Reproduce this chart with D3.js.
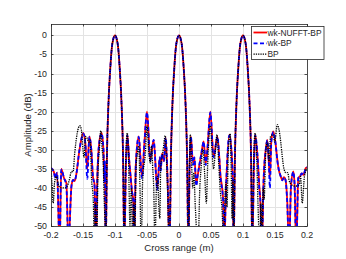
<!DOCTYPE html>
<html lang="en">
<head>
<meta charset="utf-8">
<title>cross range</title>
<script src="https://cdn.jsdelivr.net/npm/d3@7/dist/d3.min.js"></script>
<style>
    body { margin: 0; background: #fff; }
    svg { display: block; font-family: "Liberation Sans", Arial, sans-serif; }
    .grid line { stroke: #e3e3e3; stroke-width: 1; }
    .tick-label { fill: #262626; font-size: 8.8px; }
    .legend-label { fill: #262626; font-size: 8.4px; }
    .axis-label { fill: #262626; font-size: 9.6px; }
</style>
</head>
<body>
<script>
// tick values / labels
var xTicks = [-0.2, -0.15, -0.1, -0.05, 0, 0.05, 0.1, 0.15, 0.2];
var xTickLabels = ['-0.2', '-0.15', '-0.1', '-0.05', '0', '0.05', '0.1', '0.15', '0.2'];
var yTicks = [-50, -45, -40, -35, -30, -25, -20, -15, -10, -5, 0];
var seriesNames = ['wk-NUFFT-BP', 'wk-BP', 'BP'];

// wk curves (cross range in m)
var wkX = [-0.2, -0.1955, -0.1935, -0.1905, -0.1865, -0.184, -0.1797, -0.176, -0.1728, -0.168,
    -0.1656, -0.163, -0.1605, -0.1555, -0.1495, -0.1464, -0.1433, -0.14, -0.137, -0.1345,
    -0.132, -0.1298, -0.1277, -0.1245, -0.121, -0.118, -0.1168, -0.1158, -0.1145, -0.1125,
    -0.11, -0.1075, -0.105, -0.1025, -0.1, -0.0975, -0.095, -0.0925, -0.09, -0.0875,
    -0.0855, -0.083, -0.0808, -0.0777, -0.0755, -0.0734, -0.0715, -0.0702, -0.0675, -0.063,
    -0.0578, -0.054, -0.05, -0.0448, -0.0396, -0.034, -0.03, -0.0285, -0.0266, -0.0235,
    -0.0208, -0.0178, -0.0147, -0.0125, -0.01, -0.0075, -0.005, -0.0025, 0, 0.0025,
    0.005, 0.0075, 0.01, 0.0125, 0.0147, 0.0165, 0.0185, 0.022, 0.024, 0.027,
    0.029, 0.0349, 0.0386, 0.0417, 0.0443, 0.049, 0.054, 0.06, 0.065, 0.069,
    0.0705, 0.0735, 0.0786, 0.083, 0.0843, 0.0853, 0.0875, 0.09, 0.0925, 0.095,
    0.0975, 0.1, 0.1025, 0.105, 0.1075, 0.11, 0.1125, 0.1145, 0.117, 0.119,
    0.1234, 0.1255, 0.127, 0.1295, 0.1322, 0.1355, 0.138, 0.1406, 0.142, 0.1443,
    0.1474, 0.151, 0.1536, 0.156, 0.159, 0.1615, 0.164, 0.1665, 0.169, 0.172,
    0.175, 0.1786, 0.1805, 0.1832, 0.1864, 0.189, 0.1917, 0.1945, 0.198, 0.2];

var nufftDb = [-34.8, -35.8, -37.2, -36, -56, -35, -37.4, -38.7, -55, -39.5,
    -37.9, -38.2, -36.5, -30, -25.6, -28.1, -35, -26.5, -30, -37,
    -39, -56, -37.6, -28, -25.6, -30, -38, -33, -56, -31,
    -17, -9, -3.3, -0.8, 0, -0.8, -3.3, -9, -17, -31,
    -56, -35, -26, -33, -37, -41, -43, -56, -34, -26.5,
    -37, -28, -20, -32.6, -27.4, -40, -32, -35, -31, -33,
    -26.8, -38, -56, -31, -17, -9, -3.3, -0.8, 0, -0.8,
    -3.3, -9, -17, -31, -56, -35, -26.5, -33.5, -32, -39,
    -37, -31, -27.8, -33.5, -30, -20, -31.8, -26.5, -37, -43,
    -56, -40, -26, -33, -40, -56, -31, -17, -9, -3.3,
    -0.8, 0, -0.8, -3.3, -9, -17, -31, -56, -35, -26,
    -33.5, -39.6, -43, -56, -38, -30, -27.4, -34, -37.4, -27.6,
    -25.2, -28.5, -32.6, -35.3, -37, -38, -37.2, -37.9, -43, -56,
    -39.5, -35.7, -38.7, -56, -37.4, -37, -36.2, -36.6, -34.8, -34.6];

var wkbpDb = [-34.8, -35.8, -37.4, -36, -56, -35.2, -37.4, -39.5, -55, -39.5,
    -37.9, -38.2, -36.5, -30, -25.8, -28.3, -37.6, -26.6, -30, -37,
    -39.5, -56, -37.6, -28, -25.7, -30, -38.5, -33, -56, -31,
    -17, -9, -3.3, -0.8, 0, -0.8, -3.3, -9, -17, -31,
    -56, -35, -26.2, -33, -37.5, -41, -43.5, -56, -34, -26.6,
    -37.5, -28, -20.2, -32.8, -27.4, -40.5, -32, -35.5, -31, -33,
    -26.9, -38, -56, -31, -17, -9, -3.3, -0.8, 0, -0.8,
    -3.3, -9, -17, -31, -56, -35, -26.6, -34, -32, -39.5,
    -37, -31, -27.9, -34, -30, -20.2, -32, -26.6, -37.5, -43.5,
    -56, -40, -26.2, -33, -40.5, -56, -31, -17, -9, -3.3,
    -0.8, 0, -0.8, -3.3, -9, -17, -31, -56, -35, -26.2,
    -33.5, -40.5, -43, -56, -38, -30, -27.5, -34.5, -40, -27.8,
    -25.4, -28.5, -32.8, -35.3, -37, -38, -37.2, -38, -43.5, -56,
    -39.5, -35.8, -38.7, -56, -37.4, -37, -36.2, -36.6, -34.8, -34.6];

// BP curve
var bpX = [-0.2, -0.1985, -0.1965, -0.1945, -0.1915, -0.188, -0.183, -0.178, -0.1745, -0.1715,
    -0.168, -0.1655, -0.163, -0.159, -0.155, -0.1525, -0.15, -0.1485, -0.146, -0.1435,
    -0.141, -0.139, -0.1365, -0.134, -0.132, -0.1305, -0.1288, -0.1265, -0.1245, -0.1222,
    -0.12, -0.1185, -0.117, -0.1158, -0.1145, -0.1125, -0.11, -0.1075, -0.105, -0.1025,
    -0.1, -0.0975, -0.095, -0.0925, -0.09, -0.0875, -0.0855, -0.0843, -0.083, -0.0808,
    -0.0788, -0.0766, -0.0745, -0.0723, -0.0705, -0.069, -0.067, -0.065, -0.063, -0.0612,
    -0.059, -0.0568, -0.0526, -0.05, -0.047, -0.0448, -0.043, -0.041, -0.0395, -0.0375,
    -0.0355, -0.0335, -0.0315, -0.03, -0.0285, -0.0255, -0.0214, -0.0195, -0.0178, -0.0155,
    -0.0125, -0.01, -0.0075, -0.005, -0.0025, 0, 0.0025, 0.005, 0.0075, 0.01,
    0.0125, 0.015, 0.0162, 0.0177, 0.0195, 0.0215, 0.023, 0.0255, 0.0298, 0.0323,
    0.0344, 0.0375, 0.04, 0.0427, 0.045, 0.049, 0.0515, 0.054, 0.0565, 0.0594,
    0.062, 0.0646, 0.067, 0.0703, 0.0715, 0.0734, 0.075, 0.077, 0.08, 0.0815,
    0.083, 0.0843, 0.0853, 0.0875, 0.09, 0.0925, 0.095, 0.0975, 0.1, 0.1025,
    0.105, 0.1075, 0.11, 0.1125, 0.1145, 0.1165, 0.119, 0.1215, 0.1234, 0.1262,
    0.128, 0.1295, 0.1315, 0.133, 0.1355, 0.138, 0.1406, 0.143, 0.1474, 0.1495,
    0.1536, 0.156, 0.159, 0.1615, 0.164, 0.167, 0.17, 0.172, 0.175, 0.18,
    0.185, 0.188, 0.19, 0.1925, 0.196, 0.2];

var bpDb = [-35, -38.7, -44, -38.6, -37, -39.5, -40, -40, -39.5, -38,
    -35.7, -35.8, -31, -25.6, -23.7, -24.8, -30, -32, -26.5, -27,
    -28, -27.5, -38, -43, -56, -44, -56, -36, -30, -25,
    -30, -33, -42.6, -48, -56, -31, -17, -9, -3.3, -0.8,
    0, -0.8, -3.3, -9, -17, -31, -56, -40, -31, -25.6,
    -33, -50, -40, -56, -44, -52, -34.4, -31, -29, -38,
    -56, -38, -31, -23.7, -31, -33.5, -29, -35, -40, -56,
    -41, -37, -45, -48, -34, -31, -26.3, -33, -41, -56,
    -31, -17, -9, -3.3, -0.8, 0, -0.8, -3.3, -9, -17,
    -31, -56, -35, -26, -33, -40, -36, -45, -56, -41,
    -35, -29.8, -36, -44, -33, -23.7, -30, -35, -31, -26,
    -33.5, -41, -45, -56, -45, -38.6, -45, -31, -25.8, -35,
    -48, -38, -56, -31, -17, -9, -3.3, -0.8, 0, -0.8,
    -3.3, -9, -17, -31, -56, -33, -25.6, -33, -44, -56,
    -44, -56, -40, -43, -31, -28, -33, -26.5, -26, -28,
    -23.4, -24.5, -28, -32, -35, -36, -36, -38, -39, -39.5,
    -39.5, -39, -37, -44, -37, -35];

var W = 346, H = 259;
var margin = { left: 51, right: 39, top: 24, bottom: 33 };
var plotW = W - margin.left - margin.right,
    plotH = H - margin.top - margin.bottom;

var svg = d3.select('body').append('svg')
    .attr('width', W)
    .attr('height', H);

var x = d3.scaleLinear().domain([-0.2, 0.2]).range([0, plotW]);
var y = d3.scaleLinear().domain([-50, 3]).range([plotH, 0]);

var g = svg.append('g').attr('transform', 'translate(' + margin.left + ',' + margin.top + ')');

svg.append('defs').append('clipPath').attr('id', 'plotclip')
    .append('rect').attr('x', 0).attr('y', 0).attr('width', plotW).attr('height', plotH);

// grid
var grid = g.append('g').attr('class', 'grid');
grid.selectAll('.gx').data(xTicks).enter().append('line')
    .attr('x1', d => Math.round(x(d)) + 0.5).attr('x2', d => Math.round(x(d)) + 0.5)
    .attr('y1', 0).attr('y2', plotH);
grid.selectAll('.gy').data(yTicks).enter().append('line')
    .attr('y1', d => Math.round(y(d)) + 0.5).attr('y2', d => Math.round(y(d)) + 0.5)
    .attr('x1', 0).attr('x2', plotW);

// curves
var line = d3.line()
    .x(d => x(d[0]))
    .y(d => y(d[1]))
    .curve(d3.curveMonotoneX);

var curves = [
    { name: seriesNames[0], pts: wkX.map((v, i) => [v, nufftDb[i]]), color: '#ff0000', width: 1.8, dash: null },
    { name: seriesNames[1], pts: wkX.map((v, i) => [v, wkbpDb[i]]), color: '#0000ff', width: 1.8, dash: '4,2.5' },
    { name: seriesNames[2], pts: bpX.map((v, i) => [v, bpDb[i]]), color: '#000000', width: 1.3, dash: '1.3,1' }
];

var plot = g.append('g').attr('clip-path', 'url(#plotclip)');
plot.selectAll('path').data(curves).enter().append('path')
    .attr('d', d => line(d.pts))
    .attr('fill', 'none')
    .attr('stroke', d => d.color)
    .attr('stroke-width', d => d.width)
    .attr('stroke-dasharray', d => d.dash);

// box + ticks
var axisColor = '#262626';
g.append('rect')
    .attr('x', 0.5).attr('y', 0.5).attr('width', plotW).attr('height', plotH)
    .attr('fill', 'none').attr('stroke', axisColor).attr('stroke-width', 0.8);

var tickLen = 2.5;
var ticks = g.append('g').attr('stroke', axisColor).attr('stroke-width', 0.8);
xTicks.forEach(function (t) {
    var px = Math.round(x(t)) + 0.5;
    ticks.append('line').attr('x1', px).attr('x2', px).attr('y1', plotH).attr('y2', plotH - tickLen);
    ticks.append('line').attr('x1', px).attr('x2', px).attr('y1', 0).attr('y2', tickLen);
});
yTicks.forEach(function (t) {
    var py = Math.round(y(t)) + 0.5;
    ticks.append('line').attr('x1', 0).attr('x2', tickLen).attr('y1', py).attr('y2', py);
    ticks.append('line').attr('x1', plotW).attr('x2', plotW - tickLen).attr('y1', py).attr('y2', py);
});

// tick labels
g.selectAll('.xl').data(xTicks).enter().append('text')
    .attr('class', 'tick-label')
    .attr('x', d => x(d))
    .attr('y', plotH + 12)
    .attr('text-anchor', 'middle')
    .text((d, i) => xTickLabels[i]);

g.selectAll('.yl').data(yTicks).enter().append('text')
    .attr('class', 'tick-label')
    .attr('x', -4)
    .attr('y', d => y(d) + 3)
    .attr('text-anchor', 'end')
    .text(d => d);

// axis labels
g.append('text').attr('class', 'axis-label')
    .attr('x', plotW / 2).attr('y', plotH + 24.5)
    .attr('text-anchor', 'middle')
    .text('Cross range (m)');

g.append('text').attr('class', 'axis-label')
    .attr('transform', 'translate(-20,' + (plotH / 2) + ') rotate(-90)')
    .attr('text-anchor', 'middle')
    .text('Amplitude (dB)');

// legend
var lg = svg.append('g').attr('transform', 'translate(251,26)');
lg.append('rect')
    .attr('x', 0.5).attr('y', 0.5).attr('width', 72.5).attr('height', 33)
    .attr('fill', '#fff').attr('stroke', axisColor).attr('stroke-width', 0.8);
var items = lg.selectAll('.item').data(curves).enter().append('g')
    .attr('transform', (d, i) => 'translate(0,' + (6.5 + i * 10.8) + ')');
items.append('line')
    .attr('x1', 2.5).attr('x2', 16)
    .attr('y1', 0).attr('y2', 0)
    .attr('stroke', d => d.color)
    .attr('stroke-width', d => d.width)
    .attr('stroke-dasharray', d => d.dash);
items.append('text')
    .attr('class', 'legend-label')
    .attr('x', 16.5).attr('y', 3)
    .text(d => d.name);
</script>
</body>
</html>
